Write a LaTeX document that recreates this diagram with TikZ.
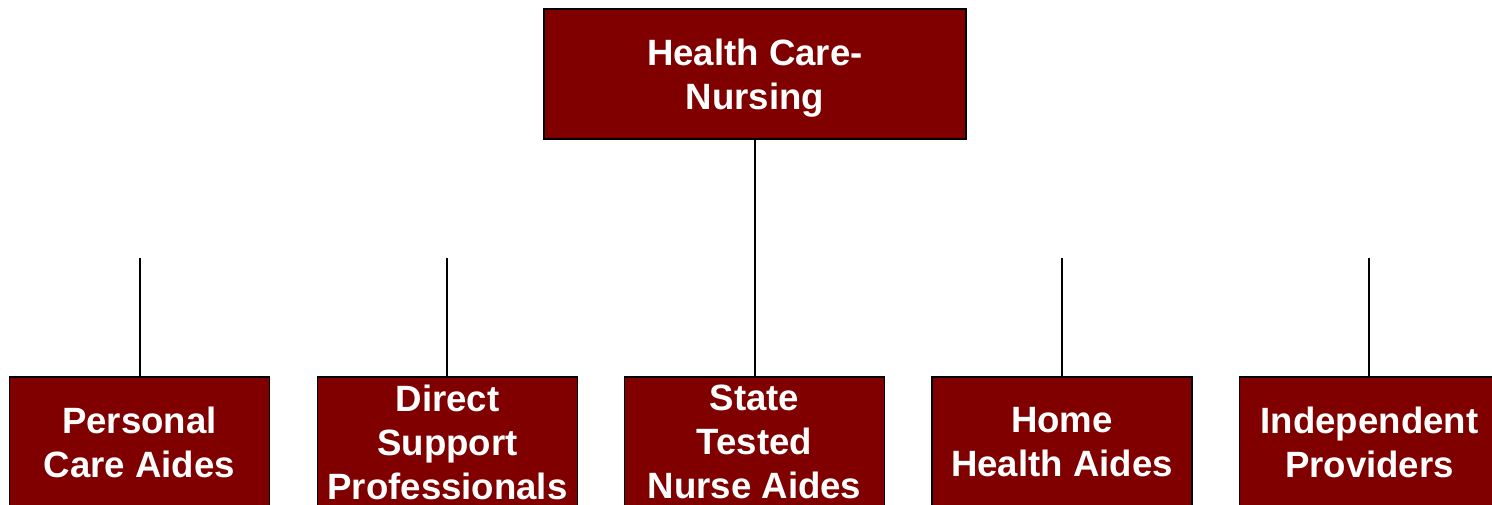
\documentclass[tikz,border=0pt]{standalone}
\usepackage{fontspec}
\setmainfont{Liberation Sans}
\definecolor{maroonbox}{HTML}{800000}
\begin{document}
\begin{tikzpicture}[x=1pt,y=1pt,
  boxtext/.style={text=white, align=center, inner sep=0pt,
    font=\fontsize{36.6}{44}\selectfont\bfseries},
  box/.style={draw=black, line width=1.6pt, fill=maroonbox, boxtext},
  topbox/.style={box, minimum width=422, minimum height=130},
  leafbox/.style={box, minimum width=260, minimum height=130},
  link/.style={draw=black, line width=1.3pt}]
\useasboundingbox (0,0) rectangle (1492,504);
\clip (0,0) rectangle (1492,504);
\node[topbox, label={[boxtext, yshift=-4pt]center:{Health Care-\\Nursing}}] (root) at (755,430) {};
\node[leafbox] (a) at (139.5,62) {Personal\\Care Aides};
\node[leafbox] (b) at (447.5,62) {Direct\\Support\\Professionals};
\node[leafbox] (c) at (754.5,62) {State\\Tested\\Nurse Aides};
\node[leafbox] (d) at (1062,62) {Home\\Health Aides};
\node[leafbox] (e) at (1369.5,62) {Independent\\Providers};
\coordinate (ta) at (140,246);
\coordinate (tb) at (447,246);
\coordinate (td) at (1062,246);
\coordinate (te) at (1369,246);
\draw[link] (root.south) -- (root.south |- c.north);
\draw[link] (ta) -- (ta |- a.north);
\draw[link] (tb) -- (tb |- b.north);
\draw[link] (td) -- (td |- d.north);
\draw[link] (te) -- (te |- e.north);
\end{tikzpicture}
\end{document}
